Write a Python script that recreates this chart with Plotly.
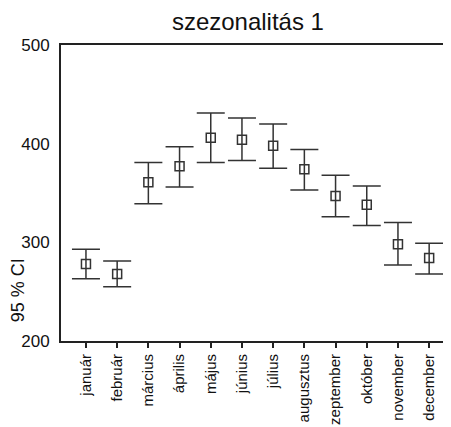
import plotly.graph_objects as go

months = ["január", "február", "március", "április", "május", "június",
          "július", "augusztus", "zeptember", "október", "november", "december"]
means = [278, 268, 361, 377, 406, 404, 398, 374, 347, 338, 298, 284]
upper = [293, 281, 381, 397, 431, 426, 420, 394, 368, 357, 320, 299]
lower = [263, 255, 339, 356, 381, 383, 375, 353, 326, 317, 277, 268]
y_ticks = [200, 300, 400, 500]

xpos = list(range(len(months)))
err_plus = [u - m for u, m in zip(upper, means)]
err_minus = [m - l for m, l in zip(means, lower)]

fig = go.Figure()
fig.add_trace(go.Scatter(
    x=xpos, y=means, mode="markers",
    marker=dict(symbol="square-open", size=9, color="#333333",
                line=dict(width=1.5, color="#333333")),
    error_y=dict(type="data", symmetric=False, array=err_plus,
                 arrayminus=err_minus, color="#333333", thickness=1.5, width=14),
    showlegend=False,
))

fig.update_layout(
    width=451, height=427,
    margin=dict(l=53, r=8, t=37, b=94),
    paper_bgcolor="white", plot_bgcolor="white",
    font=dict(family="Liberation Sans, Arial, sans-serif", color="#111111"),
    title=dict(text="szezonalitás 1", x=0.532, xanchor="center", y=0.967,
               yanchor="middle", font=dict(size=24, color="#111111")),
    xaxis=dict(range=[-0.8, 11.7], tickmode="array", tickvals=xpos, ticktext=months,
               tickangle=-90, tickfont=dict(size=15), showgrid=False, zeroline=False,
               showline=True, linecolor="#222222", linewidth=2, mirror=True,
               ticks="outside", ticklen=5, tickwidth=1.5, tickcolor="#222222",
               automargin=False),
    yaxis=dict(range=[200, 500], tickvals=y_ticks, tickfont=dict(size=17),
               showgrid=False, zeroline=False, showline=True, linecolor="#222222",
               linewidth=2, ticks="", ticklabelstandoff=6, automargin=False),
    annotations=[dict(text="95 % CI", x=-0.11, y=0.172, xref="paper", yref="paper",
                      xanchor="center", yanchor="middle",
                      showarrow=False, textangle=-90, font=dict(size=18))],
)

fig.write_html("out.html")
